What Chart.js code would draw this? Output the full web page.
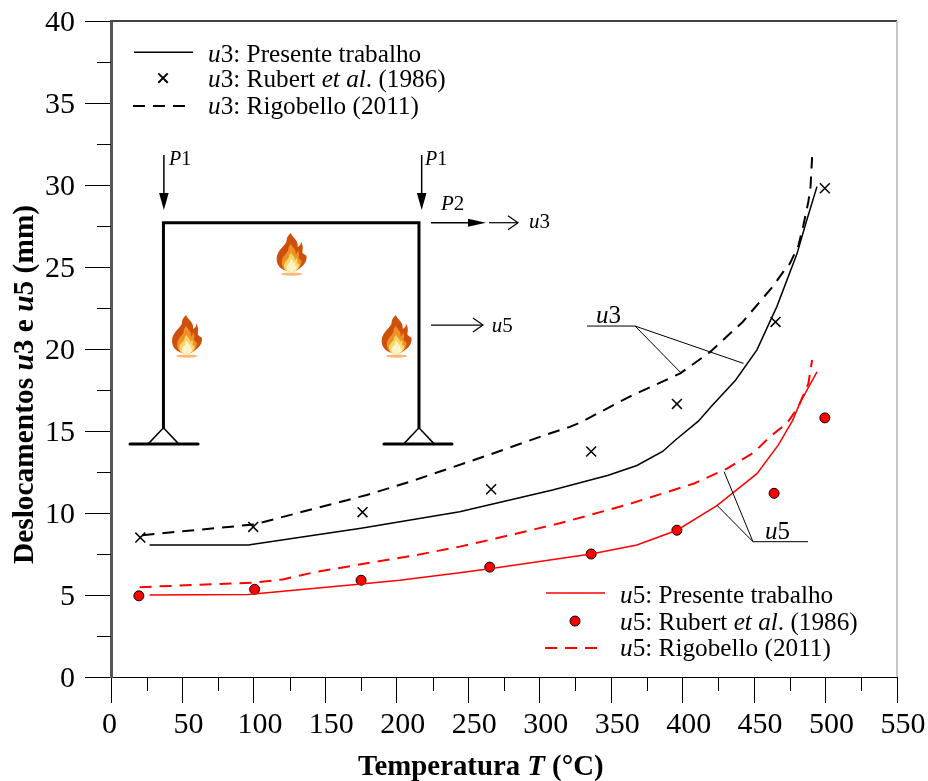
<!DOCTYPE html>
<html>
<head>
<meta charset="utf-8">
<title>Deslocamentos u3 e u5</title>
<style>
	html, body { margin: 0; padding: 0; background: #fff; }
	canvas { display: block; }
</style>
<script src="https://cdn.jsdelivr.net/npm/chart.js@4"></script>
</head>
<body>
<canvas id="chart" width="928" height="781"></canvas>
<script>
const FONT = '"Liberation Serif", "Times New Roman", serif';
const BLACK = "#000000";
const RED = "#ff0000";

// u3 curves
const u3PresenteT = [27, 96, 175, 244, 309, 348, 368, 386, 395, 411, 420, 437, 452, 466, 480, 487, 494];
const u3Presente = [8.05, 8.05, 9.07, 10.08, 11.4, 12.3, 12.9, 13.75, 14.45, 15.6, 16.5, 18.1, 19.95, 22.6, 25.8, 27.9, 29.9];
const u3RubertT = [20.5, 99.5, 176, 266, 336, 396, 465, 499.5];
const u3Rubert = [8.5, 9.15, 10.05, 11.45, 13.75, 16.65, 21.65, 29.8];
const u3RigobelloT = [22, 100, 179, 209, 263, 307, 321, 328, 363, 398, 419, 442, 463, 472, 475, 481, 484.5, 488, 489.5, 490.6];
const u3Rigobello = [8.65, 9.3, 11.1, 11.9, 13.5, 14.85, 15.25, 15.5, 17.1, 18.5, 19.8, 21.65, 23.8, 24.9, 25.2, 26.3, 27.55, 29, 29.9, 31.7];

// u5 curves
const u5PresenteT = [27, 96, 175, 202, 244, 265, 336, 368, 396, 424, 452, 467, 477, 482, 494];
const u5Presente = [5, 5.03, 5.67, 5.9, 6.36, 6.6, 7.5, 8.05, 8.95, 10.45, 12.4, 14.15, 15.65, 16.7, 18.6];
const u5RubertT = [19.5, 100.5, 175, 265, 336, 396, 464, 499.5];
const u5Rubert = [4.95, 5.35, 5.9, 6.7, 7.5, 8.95, 11.2, 15.8];
const u5RigobelloT = [20, 100, 120, 144, 179, 214, 244, 267, 314, 361, 408, 431, 450, 461, 473, 481, 488, 490.6];
const u5Rigobello = [5.48, 5.75, 5.95, 6.42, 6.93, 7.44, 7.95, 8.4, 9.37, 10.5, 11.8, 12.7, 13.7, 14.65, 15.47, 16.48, 17.9, 19.33];

const xMinorTicks = [25, 75, 125, 175, 225, 275, 325, 375, 425, 475, 525];
const yMinorTicks = [2.5, 7.5, 12.5, 17.5, 22.5, 27.5, 32.5, 37.5];

const zip = (xs, ys) => xs.map((x, i) => ({ x: x, y: ys[i] }));

const lineDataset = (label, xs, ys, color, dash) => ({
	label: label,
	data: zip(xs, ys),
	showLine: true,
	borderColor: color,
	borderWidth: dash ? 2 : 1.5,
	borderDash: dash ? [12, 8] : [],
	pointRadius: 0,
	tension: 0,
});

const textRuns = (ctx, x, y, runs, size, bold) => {
	for (const run of runs) {
		ctx.font = `${run[1] ? "italic " : ""}${bold ? "bold " : ""}${size}px ${FONT}`;
		ctx.fillText(run[0], x, y);
		x += ctx.measureText(run[0]).width;
	}
	return x;
};

const drawFlame = (ctx, cx, top) => {
	// box of 28 x 42 px
	const shape = (sx, sy, oy) => {
		const X = (v) => cx + v * sx;
		const Y = (v) => top + oy + v * sy;
		ctx.beginPath();
		ctx.moveTo(X(-1), Y(0));
		ctx.bezierCurveTo(X(1), Y(5), X(7), Y(7), X(6), Y(14));
		ctx.bezierCurveTo(X(8), Y(13), X(10), Y(11), X(9), Y(8));
		ctx.bezierCurveTo(X(13), Y(14), X(10), Y(18), X(11), Y(20));
		ctx.bezierCurveTo(X(13), Y(22), X(15), Y(22), X(15), Y(24));
		ctx.bezierCurveTo(X(15), Y(31), X(9), Y(35), X(4), Y(38));
		ctx.lineTo(X(-5), Y(38));
		ctx.bezierCurveTo(X(-12), Y(36), X(-15), Y(31), X(-15), Y(26));
		ctx.bezierCurveTo(X(-15), Y(16), X(-5), Y(13), X(-5), Y(7));
		ctx.bezierCurveTo(X(-5), Y(4), X(-3), Y(2), X(-1), Y(0));
		ctx.closePath();
		ctx.fill();
	};
	ctx.save();
	ctx.fillStyle = "#f8b878";
	ctx.beginPath();
	ctx.ellipse(cx, top + 41, 11, 1.6, 0, 0, Math.PI * 2);
	ctx.fill();
	ctx.fillStyle = "#cf4f0c";
	shape(1, 1, 0);
	ctx.fillStyle = "#ef9226";
	shape(0.66, 0.72, 11);
	ctx.fillStyle = "#fbd768";
	shape(0.52, 0.5, 20);
	ctx.fillStyle = "#fdf3c8";
	shape(0.34, 0.34, 26);
	ctx.restore();
};

// everything that is not a series: frame, diagram, leaders, legends, titles
const overlay = {
	id: "overlay",
	afterDatasetsDraw(chart) {
		const { ctx, chartArea: a, scales } = chart;
		const px = (t) => scales.x.getPixelForValue(t);
		const py = (d) => scales.y.getPixelForValue(d);
		const line = (pts, width, color) => {
			ctx.lineWidth = width;
			ctx.strokeStyle = color || BLACK;
			ctx.beginPath();
			pts.forEach((p, i) => (i ? ctx.lineTo(px(p[0]), py(p[1])) : ctx.moveTo(px(p[0]), py(p[1]))));
			ctx.stroke();
		};
		const label = (t, d, runs, size) => textRuns(ctx, px(t), py(d), runs, size, false);

		ctx.save();
		ctx.textAlign = "left";
		ctx.textBaseline = "alphabetic";
		ctx.fillStyle = BLACK;

		// remaining plot frame
		ctx.lineWidth = 2;
		ctx.strokeStyle = "#444444";
		ctx.beginPath();
		ctx.moveTo(a.left, a.top);
		ctx.lineTo(a.right, a.top);
		ctx.stroke();
		ctx.lineWidth = 1.5;
		ctx.strokeStyle = "#b5b5b5";
		ctx.beginPath();
		ctx.moveTo(a.right, a.top);
		ctx.lineTo(a.right, a.bottom);
		ctx.stroke();

		// minor ticks
		ctx.lineWidth = 1;
		ctx.strokeStyle = BLACK;
		ctx.beginPath();
		xMinorTicks.forEach((t) => {
			ctx.moveTo(Math.round(px(t)) + 0.5, a.bottom);
			ctx.lineTo(Math.round(px(t)) + 0.5, a.bottom + 14);
		});
		yMinorTicks.forEach((d) => {
			ctx.moveTo(a.left, Math.round(py(d)) + 0.5);
			ctx.lineTo(a.left - 14, Math.round(py(d)) + 0.5);
		});
		ctx.stroke();

		// portal frame
		ctx.lineCap = "round";
		line([[36.7, 15.2], [36.7, 27.7], [215.5, 27.7], [215.5, 15.2]], 3);
		line([[13.3, 14.2], [60.9, 14.2]], 3);
		line([[191, 14.2], [238.6, 14.2]], 3);
		ctx.lineCap = "butt";
		line([[25.9, 14.2], [36.7, 15.2], [47.5, 14.2]], 1.5);
		line([[204.7, 14.2], [215.5, 15.2], [226.3, 14.2]], 1.5);

		// load arrows
		const downArrow = (t, d0, d1) => {
			line([[t, d0], [t, d1 + 0.6]], 1.5);
			ctx.beginPath();
			ctx.moveTo(px(t), py(d1));
			ctx.lineTo(px(t) - 4.8, py(d1) - 17);
			ctx.lineTo(px(t) + 4.8, py(d1) - 17);
			ctx.closePath();
			ctx.fill();
		};
		downArrow(37, 31.83, 28.48);
		downArrow(217.4, 31.83, 28.48);
		line([[223.9, 27.7], [258, 27.7]], 1.5);
		ctx.beginPath();
		ctx.moveTo(px(262.4), py(27.7));
		ctx.lineTo(px(262.4) - 18, py(27.7) - 4);
		ctx.lineTo(px(262.4) - 18, py(27.7) + 4);
		ctx.closePath();
		ctx.fill();
		const openArrow = (t0, t1, d) => {
			line([[t0, d], [t1, d]], 1.2);
			ctx.beginPath();
			ctx.moveTo(px(t1) - 10, py(d) - 7);
			ctx.lineTo(px(t1), py(d));
			ctx.lineTo(px(t1) - 10, py(d) + 7);
			ctx.stroke();
		};
		openArrow(264.5, 284.8, 27.7);
		openArrow(223.9, 260.3, 21.46);
		label(40.6, 31.2, [["P", true], ["1", false]], 20);
		label(219.7, 31.2, [["P", true], ["1", false]], 20);
		label(230.9, 28.48, [["P", true], ["2", false]], 21);
		label(292.5, 27.38, [["u", true], ["3", false]], 21);
		label(266.4, 21.04, [["u", true], ["5", false]], 21);

		drawFlame(ctx, px(126.4), py(27.07));
		drawFlame(ctx, px(53.2), py(22.07));
		drawFlame(ctx, px(199.9), py(22.07));

		// leaders
		line([[333.1, 21.4], [366.7, 21.4], [442.6, 19.12]], 1);
		line([[366.7, 21.4], [398.9, 18.54]], 1);
		line([[487.7, 8.25], [449.2, 8.25], [423.8, 10.49]], 1);
		line([[449.2, 8.25], [429, 12.52]], 1);
		label(339.4, 21.6, [["u", true], ["3", false]], 25);
		label(457.6, 8.41, [["u", true], ["5", false]], 25);

		// top legend
		line([[16.1, 38.1], [57.4, 38.1]], 1.5);
		ctx.setLineDash([12, 8]);
		line([[15.4, 34.82], [55.3, 34.82]], 2);
		ctx.setLineDash([]);
		const cx = px(36.4);
		const cy = py(36.52);
		ctx.lineWidth = 2;
		ctx.strokeStyle = BLACK;
		ctx.beginPath();
		ctx.moveTo(cx - 4.7, cy - 4.7);
		ctx.lineTo(cx + 4.7, cy + 4.7);
		ctx.moveTo(cx + 4.7, cy - 4.7);
		ctx.lineTo(cx - 4.7, cy + 4.7);
		ctx.stroke();
		label(67.9, 37.5, [["u", true], ["3: Presente trabalho", false]], 25.25);
		label(67.9, 35.98, [["u", true], ["3: Rubert ", false], ["et al", true], [". (1986)", false]], 25.25);
		label(67.9, 34.33, [["u", true], ["3: Rigobello (2011)", false]], 25.25);

		// bottom legend
		line([[304.4, 5.12], [345.7, 5.12]], 1.5, RED);
		ctx.setLineDash([12, 8]);
		line([[303.7, 1.77], [343.6, 1.77]], 2, RED);
		ctx.setLineDash([]);
		ctx.fillStyle = RED;
		ctx.lineWidth = 1;
		ctx.strokeStyle = BLACK;
		ctx.beginPath();
		ctx.arc(px(324.7), py(3.41), 5, 0, Math.PI * 2);
		ctx.fill();
		ctx.stroke();
		ctx.fillStyle = BLACK;
		label(356.2, 4.51, [["u", true], ["5: Presente trabalho", false]], 25.25);
		label(356.2, 2.87, [["u", true], ["5: Rubert ", false], ["et al", true], [". (1986)", false]], 25.25);
		label(356.2, 1.28, [["u", true], ["5: Rigobello (2011)", false]], 25.25);

		// axis titles
		const xTitle = [["Temperatura ", false], ["T", true], [" (°C)", false]];
		textRuns(ctx, 358, 775, xTitle, 28.8, true);
		const yTitle = [["Deslocamentos ", false], ["u", true], ["3", false], [" e ", false], ["u", true], ["5", false], [" (mm)", false]];
		ctx.translate(33, 564);
		ctx.rotate(-Math.PI / 2);
		textRuns(ctx, 0, 0, yTitle, 29.4, true);
		ctx.restore();
	},
};

new Chart(document.getElementById("chart"), {
	type: "scatter",
	data: {
		datasets: [
			lineDataset("u3: Presente trabalho", u3PresenteT, u3Presente, BLACK, false),
			lineDataset("u3: Rigobello (2011)", u3RigobelloT, u3Rigobello, BLACK, true),
			lineDataset("u5: Presente trabalho", u5PresenteT, u5Presente, RED, false),
			lineDataset("u5: Rigobello (2011)", u5RigobelloT, u5Rigobello, RED, true),
			{
				label: "u3: Rubert et al. (1986)",
				data: zip(u3RubertT, u3Rubert),
				pointStyle: "crossRot",
				pointRadius: 7,
				pointBorderColor: BLACK,
				pointBorderWidth: 1.5,
			},
			{
				label: "u5: Rubert et al. (1986)",
				data: zip(u5RubertT, u5Rubert),
				pointStyle: "circle",
				pointRadius: 5,
				pointBackgroundColor: RED,
				pointBorderColor: BLACK,
				pointBorderWidth: 1,
			},
		],
	},
	plugins: [overlay],
	options: {
		responsive: false,
		animation: false,
		devicePixelRatio: 1,
		layout: { padding: { left: 0, top: 21, right: 31, bottom: 0 } },
		plugins: { legend: { display: false }, title: { display: false }, tooltip: { enabled: false } },
		scales: {
			x: {
				type: "linear",
				min: 0,
				max: 550,
				afterFit: (scale) => {
					scale.height = 104;
					scale.paddingLeft = 0;
					scale.paddingRight = 0;
				},
				border: { color: BLACK, width: 1 },
				grid: { drawOnChartArea: false, tickLength: 26, tickColor: BLACK, tickWidth: 1 },
				ticks: {
					stepSize: 50,
					color: BLACK,
					maxRotation: 0,
					padding: 4,
					labelOffset: 6,
					callback: (value) => (value === 0 ? "0\u2002" : String(value)),
					font: { family: FONT, size: 30 },
				},
			},
			y: {
				type: "linear",
				min: 0,
				max: 40,
				afterFit: (scale) => {
					scale.width = 111;
					scale.paddingTop = 0;
					scale.paddingBottom = 0;
				},
				border: { color: "#555555", width: 3 },
				grid: { drawOnChartArea: false, tickLength: 26, tickColor: BLACK, tickWidth: 1 },
				ticks: {
					stepSize: 5,
					color: BLACK,
					padding: 10,
					labelOffset: 2,
					font: { family: FONT, size: 30 },
				},
			},
		},
	},
});
</script>
</body>
</html>
